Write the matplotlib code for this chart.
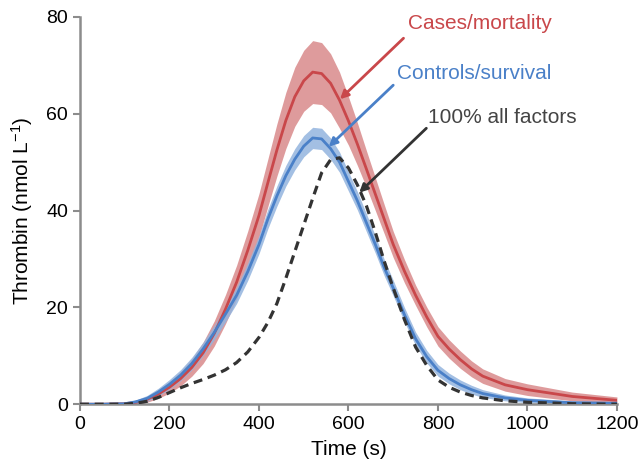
import numpy as np
import matplotlib
matplotlib.use('Agg')
import matplotlib.pyplot as plt

plt.rcParams['font.family'] = ['Liberation Sans', 'DejaVu Sans']
plt.rcParams['mathtext.fontset'] = 'custom'
plt.rcParams['mathtext.rm'] = 'Liberation Sans'
plt.rcParams['mathtext.it'] = 'Liberation Sans:italic'

# time (s)
time_s = [0, 50, 100, 125, 150, 175, 200, 225, 250, 275, 300, 325, 350, 375, 400, 420, 440, 460, 480, 500,
          520, 540, 560, 580, 600, 620, 640, 660, 680, 700, 725, 750, 775, 800, 825, 850, 875, 900, 950, 1000,
          1100, 1200]

# cases / mortality (mean and half width of band)
cases = [0, 0, 0.1, 0.4, 1.0, 2.1, 3.5, 5.3, 7.6, 10.6, 14.6, 19.6, 25.2, 31.8, 39.0, 45.8, 52.5, 58.6, 63.5, 66.8,
         68.6, 68.3, 66.3, 62.8, 58.5, 53.7, 48.6, 43.4, 38.2, 33.0, 27.5, 22.5, 18.0, 14.0, 11.4, 9.2, 7.3, 5.8, 4.0, 3.0,
         1.6, 0.8]
cases_hw = [0, 0, 0.2, 0.4, 0.6, 0.9, 1.2, 1.5, 1.8, 2.2, 2.6, 3.0, 3.5, 4.0, 4.5, 4.9, 5.4, 5.8, 6.1, 6.3,
            6.5, 6.4, 6.1, 5.8, 5.0, 4.4, 3.8, 3.4, 3.0, 2.7, 2.4, 2.1, 2.05, 2.0, 1.9, 1.8, 1.65, 1.5, 1.3, 1.2,
            0.9, 0.7]

# controls / survival
controls = [0, 0, 0.1, 0.5, 1.2, 2.5, 4.1, 6.0, 8.4, 11.4, 14.8, 18.6, 22.5, 27.4, 33.0, 38.3, 43.0, 47.2, 50.6, 53.3,
            55.0, 54.8, 52.8, 50.0, 46.0, 42.0, 37.5, 33.0, 28.2, 24.0, 18.5, 13.5, 9.8, 7.0, 5.3, 4.0, 3.0, 2.2, 1.3, 0.8,
            0.3, 0.2]
controls_hw = [0, 0, 0.2, 0.4, 0.6, 0.8, 1.0, 1.15, 1.3, 1.4, 1.5, 1.6, 1.7, 1.8, 1.9, 2.0, 2.1, 2.15, 2.2, 2.2,
               2.2, 2.2, 2.2, 2.1, 2.0, 1.9, 1.85, 1.8, 1.7, 1.6, 1.5, 1.4, 1.3, 1.2, 1.1, 1.0, 0.9, 0.8, 0.6, 0.5,
               0.4, 0.3]

# 100% all factors
all_factors = [0, 0, 0, 0.2, 0.6, 1.4, 2.4, 3.4, 4.3, 5.1, 6.0, 7.1, 8.6, 10.8, 13.8, 16.9, 20.8, 26.0, 31.5, 37.0,
               42.5, 47.8, 50.5, 50.9, 48.8, 45.3, 41.0, 35.5, 29.5, 24.0, 17.5, 11.8, 8.0, 5.0, 3.5, 2.5, 1.8, 1.3, 0.7, 0.4,
               0.1, 0]

red = '#c9474a'
red_band = '#d98a8b'
blue = '#4a80c8'
blue_band = '#93b4de'
dark = '#333333'
axis_gray = '#8c8c8c'

t = np.array(time_s)
c = np.array(cases)
ch = np.array(cases_hw)
s = np.array(controls)
sh = np.array(controls_hw)

fig = plt.figure(figsize=(6.4, 4.7), dpi=100)
ax = fig.add_axes([0.125, 0.14, 0.839, 0.824])

ax.fill_between(t, c - ch, c + ch, color=red_band, lw=0, alpha=0.85, zorder=1)
ax.fill_between(t, s - sh, s + sh, color=blue_band, lw=0, alpha=0.85, zorder=2)
ax.plot(t, c, color=red, lw=2.0, zorder=3)
ax.plot(t, s, color=blue, lw=2.0, zorder=4)
ax.plot(t, all_factors, color=dark, lw=2.3, dashes=(2.8, 1.8), zorder=5)

# labels with arrows
ax.text(894, 78.7, 'Cases/mortality', color=red, fontsize=15, ha='center', va='center')
ax.annotate('', xy=(581, 63), xytext=(723, 75.6),
            arrowprops=dict(arrowstyle='-|>', color=red, lw=2, mutation_scale=12, shrinkA=0, shrinkB=0))
ax.text(882, 68.4, 'Controls/survival', color=blue, fontsize=15, ha='center', va='center')
ax.annotate('', xy=(556, 53.2), xytext=(700, 65.9),
            arrowprops=dict(arrowstyle='-|>', color=blue, lw=2, mutation_scale=12, shrinkA=0, shrinkB=0))
ax.text(943, 59.3, '100% all factors', color='#444444', fontsize=15, ha='center', va='center')
ax.annotate('', xy=(624, 43.7), xytext=(774, 57),
            arrowprops=dict(arrowstyle='-|>', color=dark, lw=2, mutation_scale=12, shrinkA=0, shrinkB=0))

ax.set_xlim(0, 1200)
ax.set_ylim(0, 80)
ax.set_xticks(range(0, 1201, 200))
ax.set_yticks(range(0, 81, 20))
ax.spines['top'].set_visible(False)
ax.spines['right'].set_visible(False)
for sp in ['left', 'bottom']:
    ax.spines[sp].set_color(axis_gray)
    ax.spines[sp].set_linewidth(1.8)
ax.tick_params(colors=axis_gray, width=1.5, length=5, labelcolor='black', labelsize=14)

ax.set_xlabel('Time (s)', fontsize=15, labelpad=5)
ax.set_ylabel(r'Thrombin (nmol L$^{-1}$)', fontsize=15, labelpad=8)

fig.savefig('out.png', dpi=100)
